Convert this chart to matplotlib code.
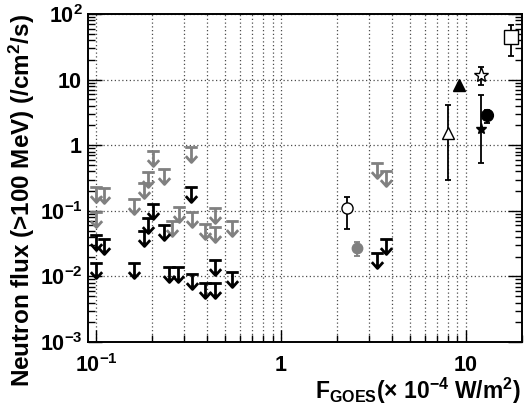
import numpy as np
import matplotlib
matplotlib.use('Agg')
import matplotlib.pyplot as plt
from matplotlib.path import Path
from matplotlib.ticker import FixedLocator, FixedFormatter, NullFormatter

plt.rcParams['font.family'] = ['Liberation Sans', 'DejaVu Sans']
plt.rcParams['font.weight'] = 'bold'
plt.rcParams['mathtext.fontset'] = 'custom'
plt.rcParams['mathtext.rm'] = 'Liberation Sans:bold'
plt.rcParams['mathtext.bf'] = 'Liberation Sans:bold'
plt.rcParams['mathtext.it'] = 'Liberation Sans:bold'

# upper limits (gray)
gray_x = [0.100, 0.110, 0.100, 0.161, 0.182, 0.190, 0.202, 0.232, 0.257, 0.281,
          0.325, 0.332, 0.388, 0.44, 0.44, 0.544, 3.3, 3.7]
gray_y = [0.23, 0.22, 0.097, 0.15, 0.27, 0.39, 0.81, 0.43, 0.070, 0.115,
          0.95, 0.097, 0.062, 0.11, 0.056, 0.070, 0.53, 0.41]

# upper limits (black)
black_x = [0.100, 0.110, 0.100, 0.161, 0.182, 0.190, 0.202, 0.232, 0.325, 0.248,
           0.276, 0.332, 0.388, 0.44, 0.44, 0.541, 3.3, 3.7]
black_y = [0.043, 0.037, 0.016, 0.016, 0.050, 0.077, 0.126, 0.060, 0.23, 0.014,
           0.014, 0.0107, 0.0080, 0.0080, 0.018, 0.0118, 0.023, 0.037]

# detections: x, y, lower, upper
det_x = [2.27, 2.57, 8.0, 9.2, 12.0, 12.0, 13.0, 17.6]
det_y = [0.109, 0.0275, 1.56, 8.4, 11.9, 1.75, 2.9, 45.0]
det_lo = [0.053, 0.0205, 0.30, 8.4, 8.4, 0.53, 2.2, 23.0]
det_hi = [0.164, 0.033, 4.07, 8.4, 15.8, 5.8, 3.4, 68.0]
det_marker = ['o', 'o', '^', '^', '*', '*', 'o', 's']
det_face = ['white', '#808080', 'white', 'black', 'white', 'black', 'black', 'white']
det_edge = ['black', '#808080', 'black', 'black', 'black', 'black', 'black', 'black']
det_size = [8, 7.5, 9, 8, 11, 8, 8.5, 10]

# upper-limit symbol: bar, stem, arrow head
verts = [(-0.42, 0), (0.42, 0), (0, 0), (0, -1),
         (-0.38, -0.58), (0, -1), (0.38, -0.58)]
codes = [Path.MOVETO, Path.LINETO, Path.MOVETO, Path.LINETO,
         Path.MOVETO, Path.LINETO, Path.LINETO]
ul_marker = Path(verts, codes)

fig = plt.figure(figsize=(5.28, 4.07), dpi=100)
ax = fig.add_axes([0.1667, 0.1597, 0.8219, 0.8059])
ax.set_xscale('log')
ax.set_yscale('log')
ax.set_xlim(0.0905, 20.1)
ax.set_ylim(1e-3, 1e2)

ax.plot(gray_x, gray_y, ls='none', marker=ul_marker, ms=21.5, mew=2.0,
        mec='#808080', mfc='none', zorder=3)
ax.plot(black_x, black_y, ls='none', marker=ul_marker, ms=21.5, mew=2.0,
        mec='black', mfc='none', zorder=4)

for i in range(len(det_x)):
    if det_hi[i] != det_lo[i]:
        yerr = [[det_y[i] - det_lo[i]], [det_hi[i] - det_y[i]]]
        ax.errorbar([det_x[i]], [det_y[i]], yerr=yerr, fmt='none',
                    ecolor=det_edge[i], elinewidth=1.3, capsize=2.5,
                    capthick=1.3, zorder=4)
    ax.plot([det_x[i]], [det_y[i]], ls='none', marker=det_marker[i],
            ms=det_size[i], mfc=det_face[i], mec=det_edge[i], mew=1.0, zorder=5)

# ticks
ax.xaxis.set_major_locator(FixedLocator([0.1, 1, 10]))
ax.xaxis.set_major_formatter(FixedFormatter([r'$\mathbf{10^{-1}}$', r'$\mathbf{1}$', r'$\mathbf{10}$']))
xminor = [m * 10.0 ** e for e in (-2, -1, 0, 1) for m in range(2, 10)]
ax.xaxis.set_minor_locator(FixedLocator(xminor))
ax.xaxis.set_minor_formatter(NullFormatter())

yticks = [1e-3, 1e-2, 1e-1, 1, 10, 100]
ax.yaxis.set_major_locator(FixedLocator(yticks))
ax.yaxis.set_major_formatter(FixedFormatter([r'$\mathbf{10^{-3}}$', r'$\mathbf{10^{-2}}$',
                                             r'$\mathbf{10^{-1}}$', r'$\mathbf{1}$',
                                             r'$\mathbf{10}$', r'$\mathbf{10^{2}}$']))
yminor = [m * 10.0 ** e for e in (-3, -2, -1, 0, 1) for m in range(2, 10)]
ax.yaxis.set_minor_locator(FixedLocator(yminor))
ax.yaxis.set_minor_formatter(NullFormatter())

ax.tick_params(axis='both', which='both', direction='in', labelsize=15.5)
ax.tick_params(axis='x', which='major', length=9, width=1, pad=9)
ax.tick_params(axis='x', which='minor', length=5, width=1)
ax.tick_params(axis='y', which='both', right=True)
ax.tick_params(axis='y', which='major', length=10, width=1, pad=4)
ax.tick_params(axis='y', which='minor', length=5, width=1)

ax.grid(True, axis='x', which='both', color='0.3', ls=(0, (1, 2)), lw=0.9)
ax.grid(True, axis='y', which='major', color='0.3', ls=(0, (1, 2)), lw=0.9)
ax.set_axisbelow(True)

for s in ax.spines.values():
    s.set_linewidth(1.4)

ax.set_ylabel(r'Neutron flux (>100 MeV) (/cm$^{\mathbf{2}}$/s)', fontsize=17.5,
              fontweight='bold', loc='top')
ax.yaxis.set_label_coords(-0.117, 1.0)
fig.text(0.986, 0.02,
         r'F$_{\mathbf{GOES}}$($\times$ 10$^{\mathbf{-4}}$ W/m$^{\mathbf{2}}$)',
         fontsize=16.5, fontweight='bold', ha='right', va='baseline')

fig.savefig('out.png', dpi=100)
